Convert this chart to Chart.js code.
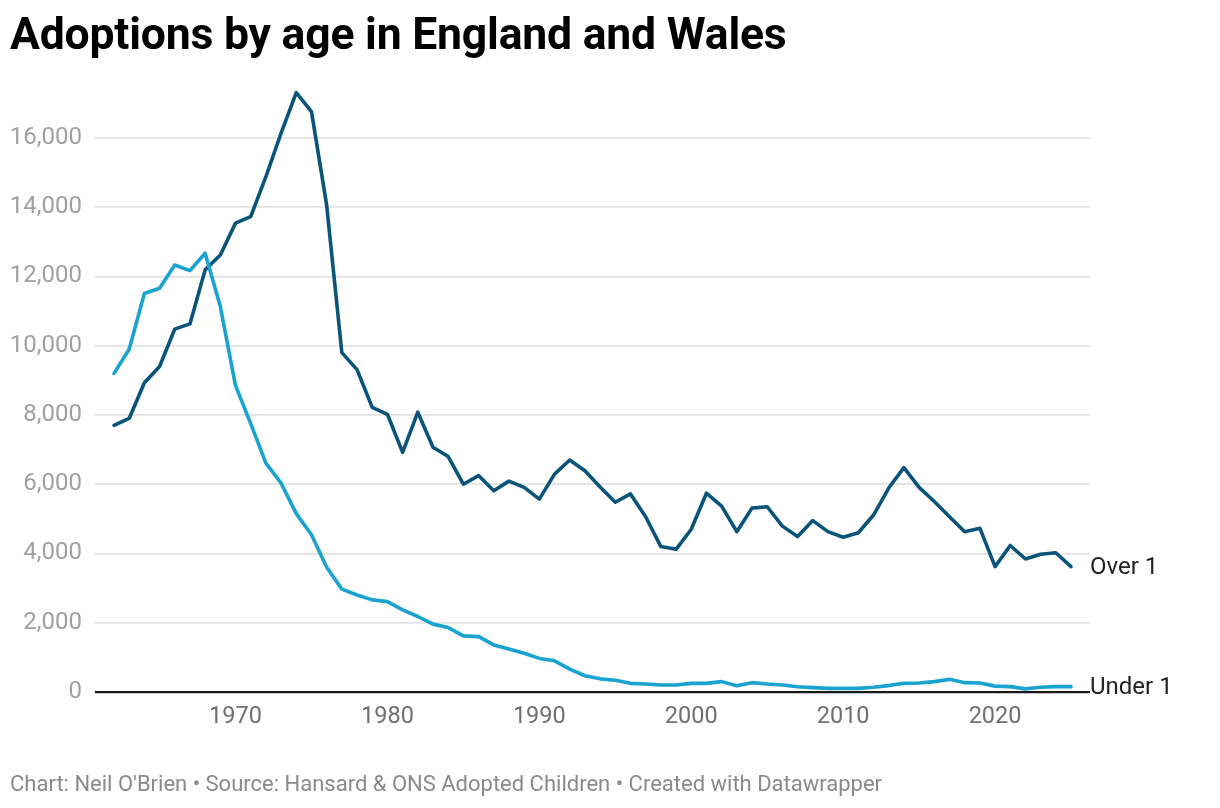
<!DOCTYPE html>
<html>
<head>
<meta charset="utf-8">
<script src="https://cdn.jsdelivr.net/npm/chart.js@4"></script>
<style>
  body { margin: 0; background: #fff; font-family: Roboto, "Noto Sans", sans-serif; }
  #wrap { position: relative; width: 1220px; height: 808px; overflow: hidden; }
  #title { position: absolute; left: 10px; top: 8px; font-size: 44.5px; font-weight: 700; color: #000; white-space: nowrap; letter-spacing: -0.2px; }
  #footer { position: absolute; left: 10px; top: 771px; font-size: 22px; color: #8a8a8a; white-space: nowrap; }
  canvas { position: absolute; left: 0; top: 0; }
</style>
</head>
<body>
<div id="wrap">
  <canvas id="chart" width="1220" height="808"></canvas>
  <div id="title">Adoptions by age in England and Wales</div>
  <div id="footer">Chart: Neil O'Brien • Source: Hansard &amp; ONS Adopted Children • Created with Datawrapper</div>
</div>
<script>
// adoptions per year
const years = [1962,1963,1964,1965,1966,1967,1968,1969,1970,1971,1972,1973,1974,1975,1976,1977,1978,1979,
  1980,1981,1982,1983,1984,1985,1986,1987,1988,1989,1990,1991,1992,1993,1994,1995,1996,1997,1998,1999,
  2000,2001,2002,2003,2004,2005,2006,2007,2008,2009,2010,2011,2012,2013,2014,2015,2016,2017,2018,2019,
  2020,2021,2022,2023,2024,2025];

const over1 = [7700,7900,8930,9400,10480,10630,12190,12620,13540,13730,14880,16140,17310,16760,14060,9800,9310,8220,
  8020,6920,8080,7070,6800,6000,6250,5810,6090,5910,5570,6290,6700,6390,5920,5480,5720,5060,4200,4120,
  4700,5740,5370,4630,5310,5350,4790,4490,4950,4630,4470,4600,5110,5890,6480,5910,5500,5060,4630,4730,
  3620,4230,3840,3980,4020,3620];

const under1 = [9200,9900,11510,11660,12330,12170,12670,11130,8850,7750,6610,6030,5150,4540,3600,2970,2800,2660,
  2610,2370,2180,1960,1860,1620,1600,1360,1240,1120,970,900,660,470,380,340,250,230,200,200,
  250,250,300,180,270,230,200,150,125,105,105,105,135,185,250,260,300,365,270,260,
  170,155,90,135,155,155];

const seriesNames = ['Under 1', 'Over 1'];
const seriesColors = ['#1aa3d0', '#0b5479'];
const yTicks = [0,2000,4000,6000,8000,10000,12000,14000,16000];
const xTicks = [1970,1980,1990,2000,2010,2020];

const FONT = 'Roboto, "Noto Sans", sans-serif';

const endLabels = {
  id: 'endLabels',
  afterDatasetsDraw(chart) {
    const ctx = chart.ctx;
    ctx.save();
    ctx.font = '24px ' + FONT;
    ctx.fillStyle = '#222';
    ctx.textBaseline = 'middle';
    chart.data.datasets.forEach((ds, i) => {
      const meta = chart.getDatasetMeta(i);
      const pt = meta.data[meta.data.length - 1];
      ctx.fillText(ds.label, chart.chartArea.right, pt.y + 1);
    });
    ctx.restore();
  }
};

new Chart(document.getElementById('chart'), {
  type: 'line',
  data: {
    datasets: [
      {
        label: seriesNames[0],
        data: years.map((yr, i) => ({ x: yr, y: under1[i] })),
        borderColor: seriesColors[0],
        borderWidth: 3.6,
        pointRadius: 0,
        tension: 0,
        borderJoinStyle: 'round',
        borderCapStyle: 'round'
      },
      {
        label: seriesNames[1],
        data: years.map((yr, i) => ({ x: yr, y: over1[i] })),
        borderColor: seriesColors[1],
        borderWidth: 3.6,
        pointRadius: 0,
        tension: 0,
        borderJoinStyle: 'round',
        borderCapStyle: 'round'
      }
    ]
  },
  options: {
    responsive: false,
    animation: false,
    layout: { padding: { top: 86, right: 130, bottom: 76, left: 0 } },
    plugins: { legend: { display: false }, tooltip: { enabled: false } },
    scales: {
      x: {
        type: 'linear',
        min: 1960.75,
        max: 2026.25,
        afterFit(scale) { scale.height = 40; },
        afterBuildTicks(scale) { scale.ticks = xTicks.map(v => ({ value: v })); },
        grid: { display: false, drawTicks: false },
        border: { display: false },
        ticks: {
          padding: 11,
          color: '#707070',
          font: { family: FONT, size: 23.5 },
          callback: v => String(v)
        }
      },
      y: {
        min: 0,
        max: 17500,
        afterFit(scale) { scale.width = 95; },
        afterBuildTicks(scale) { scale.ticks = yTicks.map(v => ({ value: v })); },
        grid: {
          drawTicks: false,
          color: c => c.tick && c.tick.value === 0 ? '#1a1a1a' : '#e2e2e2',
          lineWidth: c => c.tick && c.tick.value === 0 ? 2.2 : 1.8
        },
        border: { display: false },
        ticks: {
          padding: 13,
          color: '#a0a0a0',
          font: { family: FONT, size: 24 },
          callback: v => v.toLocaleString('en-US')
        }
      }
    }
  },
  plugins: [endLabels]
});
</script>
</body>
</html>
